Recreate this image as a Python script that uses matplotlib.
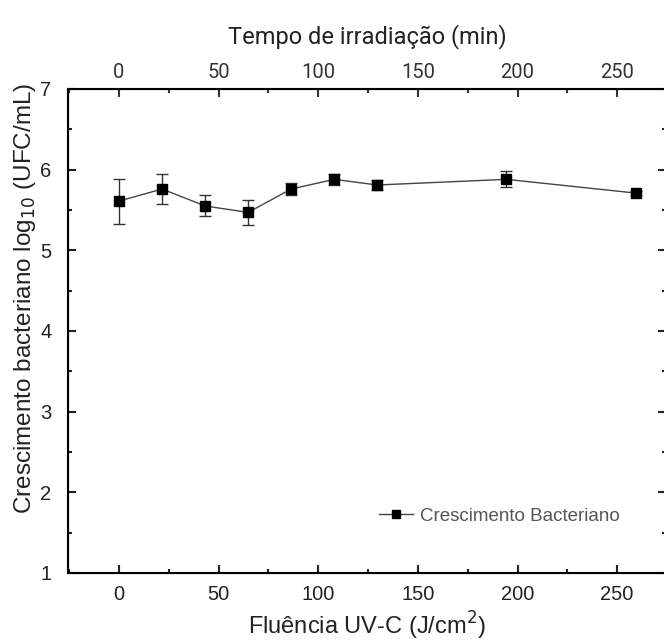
import matplotlib
matplotlib.use("Agg")
import matplotlib.pyplot as plt
from matplotlib.ticker import MultipleLocator
from matplotlib.lines import Line2D

fluence = [0, 21.6, 43.2, 64.8, 86.4, 108, 129.6, 194.4, 259.2]
growth = [5.61, 5.76, 5.55, 5.47, 5.76, 5.88, 5.81, 5.88, 5.71]
err = [0.28, 0.19, 0.13, 0.15, 0.08, 0.07, 0.06, 0.10, 0.02]
ticks = [0, 50, 100, 150, 200, 250]
series_label = 'Crescimento Bacteriano'

fig = plt.figure(figsize=(6.64, 6.44), dpi=100)
ax = fig.add_axes([68/664, 1-573/644, (666-68)/664, (573-89)/644])

ax.errorbar(fluence, growth, yerr=err, color='#444444', lw=1.0, marker='s',
            ms=7, mfc='black', mec='black', ecolor='#333333', elinewidth=1.0,
            capsize=4, capthick=1.0)

ax.set_xlim(-25.6, 274.5)
ax.set_ylim(1, 7)
ax.set_xticks(ticks)
ax.xaxis.set_minor_locator(MultipleLocator(25))
ax.yaxis.set_major_locator(MultipleLocator(1))
ax.yaxis.set_minor_locator(MultipleLocator(0.5))
for s in ax.spines.values():
    s.set_linewidth(1.5)
ax.tick_params(which='both', direction='in', right=True, width=1.5, colors='#222222')
ax.tick_params(which='major', length=6, labelsize=14.5, pad=9)
ax.tick_params(axis='y', which='major', pad=12)
ax.tick_params(which='minor', length=3)
for lbl in ax.get_xticklabels() + ax.get_yticklabels():
    lbl.set_family('Liberation Sans')

ax.set_xlabel('Fluência UV-C (J/cm$^2$)', family='Liberation Sans', fontsize=17, color='#222222', labelpad=4)
ax.set_ylabel('Crescimento bacteriano log$_{10}$ (UFC/mL)', family='Liberation Sans', fontsize=17.5, color='#222222')
ax.yaxis.set_label_coords(-0.05, 0.568)

top = ax.twiny()
top.set_xlim(ax.get_xlim())
top.set_xticks(ticks)
top.xaxis.set_minor_locator(MultipleLocator(25))
top.tick_params(which='both', direction='in', width=1.5, colors='#333333')
top.tick_params(which='major', length=6, labelsize=14.5, pad=5)
top.tick_params(which='minor', length=3)
for lbl in top.get_xticklabels():
    lbl.set_family('Roboto')
top.set_xlabel('Tempo de irradiação (min)', family='Roboto', fontsize=17, color='#222222', labelpad=14)

handle = Line2D([], [], color='#444444', lw=1.0, marker='s', ms=6, mfc='black', mec='black')
leg = ax.legend([handle], [series_label], loc='center left', bbox_to_anchor=(0.52, 0.117),
                frameon=False, prop={'family': 'Liberation Sans', 'size': 13.5},
                handlelength=1.8, handletextpad=0.4, borderpad=0, borderaxespad=0)
for t in leg.get_texts():
    t.set_color('#555555')

fig.savefig('out.png', dpi=100)
